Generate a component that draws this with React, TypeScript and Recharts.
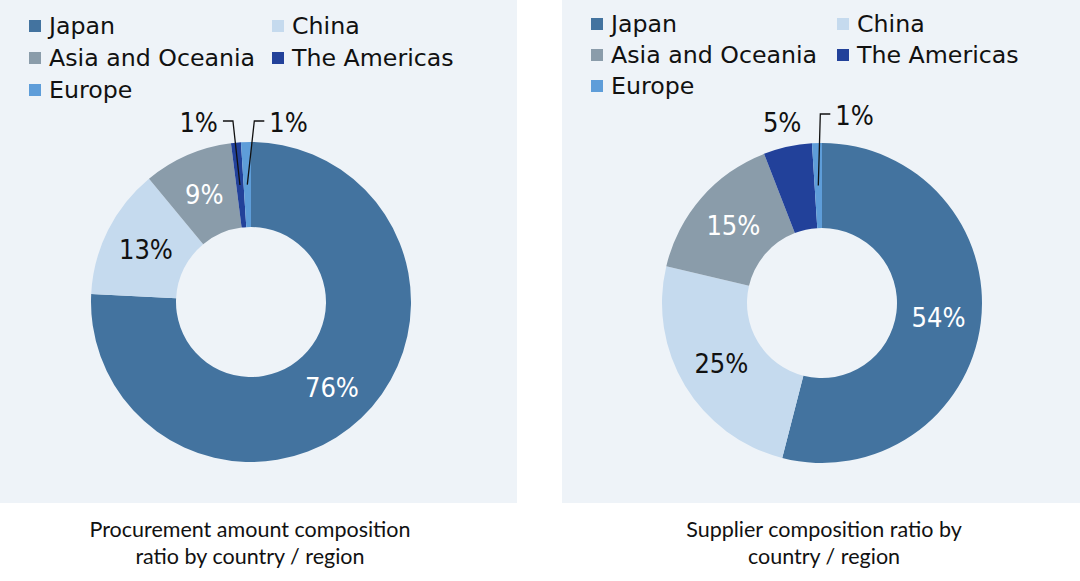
import { PieChart, Pie, Cell } from "recharts";

const categories = ["Japan", "China", "Asia and Oceania", "The Americas", "Europe"];
const procurementShare = [75.8, 13.2, 9.0, 1.0, 1.0];
const supplierShare = [54.0, 24.7, 15.4, 4.9, 1.0];

const COLORS = ["#43739F", "#C5DAEE", "#8A9CAA", "#22419A", "#5E9DD9"];
const INK = ["#fff", "#111", "#fff", "#fff", "#fff"];
const PANEL_BG = "#EEF3F8";
const LABEL_FONT = "'Liberation Sans Narrow', 'DejaVu Sans Condensed', sans-serif";
const RADIAN = Math.PI / 180;

type Slice = { name: string; value: number };

function toRows(values: number[]): Slice[] {
  return categories.map((name, i) => ({ name, value: values[i] }));
}

function makeLabel(leaderRise: number, bend: number) {
  return (props: any) => {
    const { cx, cy, midAngle, innerRadius, outerRadius, percent, index } = props;
    const pct = `${Math.round(percent * 100)}%`;
    const cos = Math.cos(-midAngle * RADIAN);
    const sin = Math.sin(-midAngle * RADIAN);

    if (percent >= 0.08) {
      const r = (innerRadius + outerRadius) / 2;
      return (
        <text
          x={cx + r * cos}
          y={cy + r * sin}
          fill={INK[index]}
          textAnchor="middle"
          dominantBaseline="central"
          fontSize={27}
          fontFamily={LABEL_FONT}
        >
          {pct}
        </text>
      );
    }

    if (percent >= 0.03) {
      const r = outerRadius + 25;
      return (
        <text
          x={cx + r * cos}
          y={cy + r * sin}
          fill="#111"
          textAnchor="middle"
          dominantBaseline="central"
          fontSize={27}
          fontFamily={LABEL_FONT}
        >
          {pct}
        </text>
      );
    }

    // tiny slices: leader line up from mid-ring, then sideways
    const r = (innerRadius + outerRadius) / 2;
    const ex = cx + r * cos;
    const ey = cy + r * sin;
    const a = ((midAngle % 360) + 360) % 360;
    const dir = a < 95 ? 1 : -1;
    const bx = ex + dir * bend;
    const by = cy - leaderRise;
    const tx = bx + dir * 10;
    return (
      <g>
        <polyline
          points={`${ex},${ey} ${bx},${by} ${tx},${by}`}
          fill="none"
          stroke="#111"
          strokeWidth={1.3}
        />
        <text
          x={tx + dir * 5}
          y={by + 1}
          fill="#111"
          textAnchor={dir > 0 ? "start" : "end"}
          dominantBaseline="central"
          fontSize={27}
          fontFamily={LABEL_FONT}
        >
          {pct}
        </text>
      </g>
    );
  };
}

function LegendBlock({ top, gap, col2 }: { top: number; gap: number; col2: number }) {
  return (
    <div style={{ position: "absolute", left: 0, top: 0 }}>
      {categories.map((name, i) => {
        const col = i % 2;
        const row = Math.floor(i / 2);
        const x = col === 0 ? 29 : col2;
        const y = top + row * gap;
        return (
          <div
            key={name}
            style={{
              position: "absolute",
              left: x,
              top: y - 16,
              height: 32,
              display: "flex",
              alignItems: "center",
              whiteSpace: "nowrap",
              fontFamily: "'DejaVu Sans', sans-serif",
              fontSize: 23.7,
              color: "#111",
            }}
          >
            <span
              style={{ width: 12, height: 12, background: COLORS[i], marginRight: 8, display: "inline-block" }}
            />
            {name}
          </div>
        );
      })}
    </div>
  );
}

function DonutPanel({
  left,
  width,
  cx,
  cy,
  values,
  legendTop,
  legendGap,
  col2,
  leaderRise,
  bend,
  caption,
  captionX,
}: {
  left: number;
  width: number;
  cx: number;
  cy: number;
  values: number[];
  legendTop: number;
  legendGap: number;
  col2: number;
  leaderRise: number;
  bend: number;
  caption: string[];
  captionX: number;
}) {
  const rows = toRows(values);
  return (
    <>
      <div style={{ position: "absolute", left, top: 0, width, height: 503, background: PANEL_BG }}>
        <PieChart width={width} height={503} margin={{ top: 0, right: 0, bottom: 0, left: 0 }}>
          <Pie
            data={rows}
            dataKey="value"
            nameKey="name"
            cx={cx}
            cy={cy}
            innerRadius={75}
            outerRadius={160}
            startAngle={90}
            endAngle={-270}
            stroke="none"
            labelLine={false}
            label={makeLabel(leaderRise, bend)}
            isAnimationActive={false}
          >
            {rows.map((_, i) => (
              <Cell key={i} fill={COLORS[i]} />
            ))}
          </Pie>
        </PieChart>
        <LegendBlock top={legendTop} gap={legendGap} col2={col2} />
      </div>
      <div
        style={{
          position: "absolute",
          left: captionX - 220,
          top: 516,
          width: 440,
          textAlign: "center",
          fontFamily: "Lato, 'Open Sans', sans-serif",
          fontSize: 21.5,
          lineHeight: "27px",
          color: "#111",
        }}
      >
        {caption.map((line) => (
          <div key={line}>{line}</div>
        ))}
      </div>
    </>
  );
}

export default function App() {
  return (
    <div style={{ position: "fixed", left: 0, top: 0, width: 1080, height: 581, background: "#fff" }}>
      <DonutPanel
        left={0}
        width={517}
        cx={251}
        cy={302}
        values={procurementShare}
        legendTop={26}
        legendGap={32}
        col2={272}
        leaderRise={181}
        bend={7}
        caption={["Procurement amount composition", "ratio by country / region"]}
        captionX={250}
      />
      <DonutPanel
        left={562}
        width={518}
        cx={260}
        cy={303}
        values={supplierShare}
        legendTop={24}
        legendGap={31}
        col2={275}
        leaderRise={189}
        bend={2}
        caption={["Supplier composition ratio by", "country / region"]}
        captionX={824}
      />
    </div>
  );
}
